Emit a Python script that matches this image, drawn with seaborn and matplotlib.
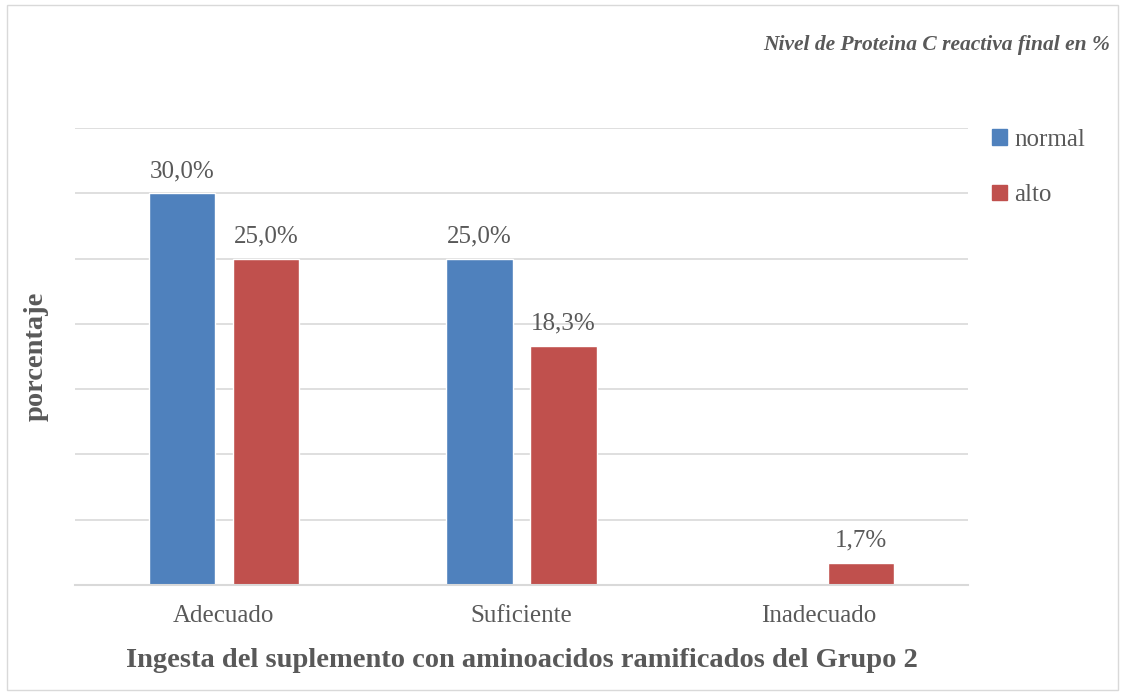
import matplotlib
matplotlib.use("Agg")
import matplotlib.pyplot as plt
import matplotlib.patches as mpatches
import seaborn as sns
import pandas as pd

# data
categorias = ["Adecuado", "Suficiente", "Inadecuado"]
normal = [30.0, 25.0, 0.0]
alto = [25.0, 18.3, 1.7]
series = ["normal", "alto"]

colores = {"normal": "#4F81BD", "alto": "#C0504D"}
gris = "#595959"

df = pd.DataFrame({
    "categoria": categorias * 2,
    "nivel": ["normal"] * 3 + ["alto"] * 3,
    "valor": normal + alto,
})

sns.set_style("white")
plt.rcParams["font.family"] = ["Liberation Serif", "DejaVu Serif"]

fig = plt.figure(figsize=(11.23, 6.98), dpi=100)
ax = fig.add_axes([75 / 1123, 1 - 585 / 698, 893 / 1123, (585 - 128) / 698])

sns.barplot(data=df, x="categoria", y="valor", hue="nivel", order=categorias,
            hue_order=series, palette=colores, width=0.565, gap=0.214,
            saturation=1, legend=False, ax=ax)

ax.set_ylim(0, 35)
ax.set_yticks(range(0, 36, 5))
ax.yaxis.grid(True, color="#D9D9D9", linewidth=1.2)
ax.set_axisbelow(True)
ax.tick_params(axis="y", left=False, labelleft=False)
ax.tick_params(axis="x", bottom=False, labelsize=18, labelcolor=gris, pad=11)
for s in ["top", "right", "left"]:
    ax.spines[s].set_visible(False)
ax.spines["bottom"].set_color("#D9D9D9")
ax.spines["bottom"].set_linewidth(1.5)

for cont in ax.containers:
    etiquetas = [("%.1f%%" % b.get_height()).replace(".", ",") if b.get_height() > 0 else ""
                 for b in cont]
    ax.bar_label(cont, labels=etiquetas, padding=8, fontsize=18, color=gris)

ax.set_xlabel("Ingesta del suplemento con aminoacidos ramificados del Grupo 2",
              fontsize=20.5, fontweight="bold", color=gris, labelpad=15)
ax.set_ylabel("porcentaje", fontsize=20.5, fontweight="bold", color=gris, labelpad=19)

fig.text(1110 / 1123, 1 - 45 / 698, "Nivel de Proteina C reactiva final en %",
         ha="right", va="center", fontsize=15.5, fontweight="bold",
         fontstyle="italic", color=gris)

handles = [mpatches.Patch(color=colores[s], label=s) for s in series]
fig.legend(handles=handles, loc="upper left", bbox_to_anchor=(969 / 1123, 1 - 106 / 698),
           frameon=False, fontsize=18, labelcolor=gris, handlelength=0.6,
           handleheight=0.6, handletextpad=0.3, labelspacing=1.35)

fig.patches.append(mpatches.Rectangle((7 / 1123, 1 - 690 / 698), 1111 / 1123, 685 / 698,
                                      transform=fig.transFigure, fill=False,
                                      edgecolor="#D9D9D9", linewidth=1))

fig.savefig("out.png", dpi=100)
